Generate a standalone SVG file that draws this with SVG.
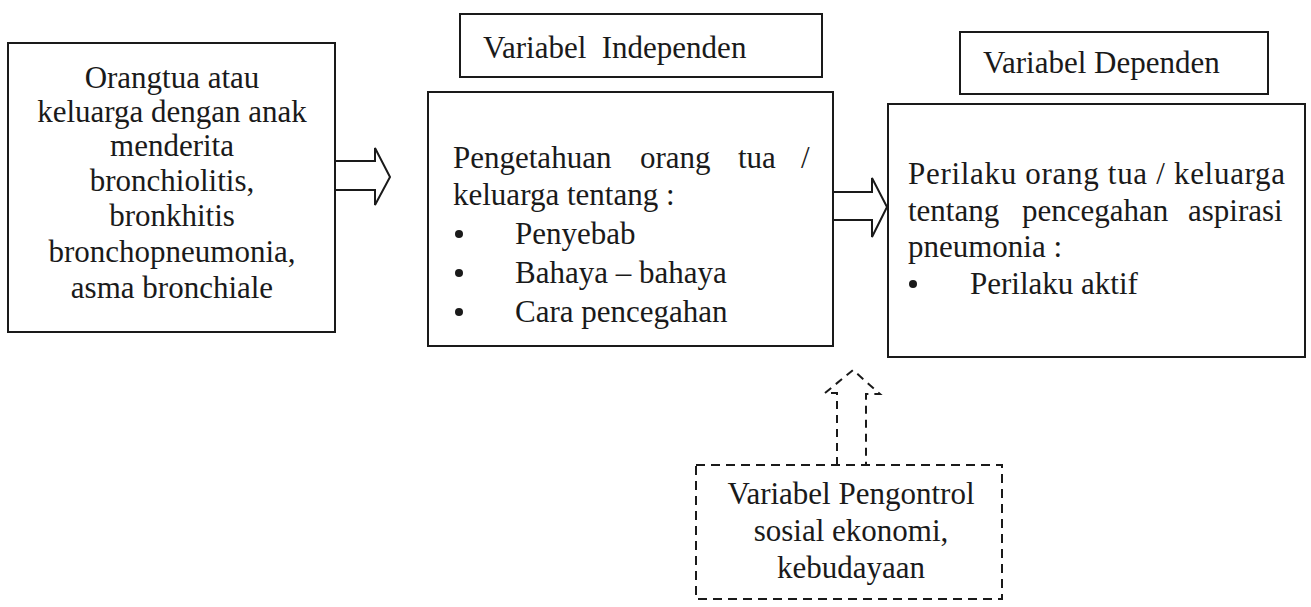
<svg xmlns="http://www.w3.org/2000/svg" width="1311" height="607" viewBox="0 0 1311 607">
<style>
.box{fill:#fff;stroke:#1a1a1a;stroke-width:2}
.dbox{fill:#fff;stroke:#1a1a1a;stroke-width:2;stroke-dasharray:9 6}
.arr{fill:#fff;stroke:#1a1a1a;stroke-width:2;stroke-linejoin:miter}
.darr{fill:none;stroke:#1a1a1a;stroke-width:2;stroke-dasharray:8 6}
.t{font-family:'Liberation Serif','DejaVu Serif',serif;font-size:31px;fill:#1a1a1a}
.c{text-anchor:middle}
</style>
<rect width="1311" height="607" fill="#fff"/>
<g id="connectors">
<path class="arr" d="M334,161 L375,161 L375,148 L390,177 L375,205 L375,190 L334,190"/>
<path class="arr" d="M830,192 L872,192 L872,178 L887,207 L872,237 L872,220 L830,220"/>
<path class="darr" d="M837,465 L837,393 L825,393 L853,370 L880,394 L866,394 L866,465"/>
</g>
<g id="node-subjek" class="t" font-family="Liberation Serif, serif">
<rect class="box" x="8" y="43" width="327" height="289"/>
<text class="c" x="172" y="88">Orangtua atau</text>
<text class="c" x="172" y="122">keluarga dengan anak</text>
<text class="c" x="172" y="156">menderita</text>
<text class="c" x="172" y="191">bronchiolitis,</text>
<text class="c" x="172" y="226">bronkhitis</text>
<text class="c" x="172" y="262">bronchopneumonia,</text>
<text class="c" x="172" y="298">asma bronchiale</text>
</g>
<g id="label-independen" class="t" font-family="Liberation Serif, serif">
<rect class="box" x="460" y="14" width="362" height="63"/>
<text x="483" y="58" xml:space="preserve">Variabel  Independen</text>
</g>
<g id="node-independen" class="t" font-family="Liberation Serif, serif">
<rect class="box" x="428" y="92" width="405" height="254"/>
<text x="453" y="168">Pengetahuan</text>
<text x="640" y="168">orang</text>
<text x="738" y="168">tua</text>
<text x="801" y="168">/</text>
<text x="453" y="205">keluarga tentang :</text>
<circle cx="459" cy="234" r="4" fill="#1a1a1a"/>
<text x="515" y="244">Penyebab</text>
<circle cx="459" cy="273" r="4" fill="#1a1a1a"/>
<text x="515" y="283">Bahaya – bahaya</text>
<circle cx="459" cy="312" r="4" fill="#1a1a1a"/>
<text x="515" y="322">Cara pencegahan</text>
</g>
<g id="label-dependen" class="t" font-family="Liberation Serif, serif">
<rect class="box" x="960" y="32" width="308" height="62"/>
<text x="983" y="73">Variabel Dependen</text>
</g>
<g id="node-dependen" class="t" font-family="Liberation Serif, serif">
<rect class="box" x="888" y="104" width="417" height="253"/>
<text x="908" y="184" textLength="377" lengthAdjust="spacing">Perilaku orang tua / keluarga</text>
<text x="908" y="221">tentang</text>
<text x="1022" y="221">pencegahan</text>
<text x="1188" y="221">aspirasi</text>
<text x="908" y="257">pneumonia :</text>
<circle cx="913" cy="284" r="4" fill="#1a1a1a"/>
<text x="970" y="294">Perilaku aktif</text>
</g>
<g id="node-pengontrol" class="t" font-family="Liberation Serif, serif">
<rect class="dbox" x="696" y="465" width="306" height="134"/>
<text class="c" x="851" y="504">Variabel Pengontrol</text>
<text class="c" x="851" y="541">sosial ekonomi,</text>
<text class="c" x="851" y="578">kebudayaan</text>
</g>
</svg>
